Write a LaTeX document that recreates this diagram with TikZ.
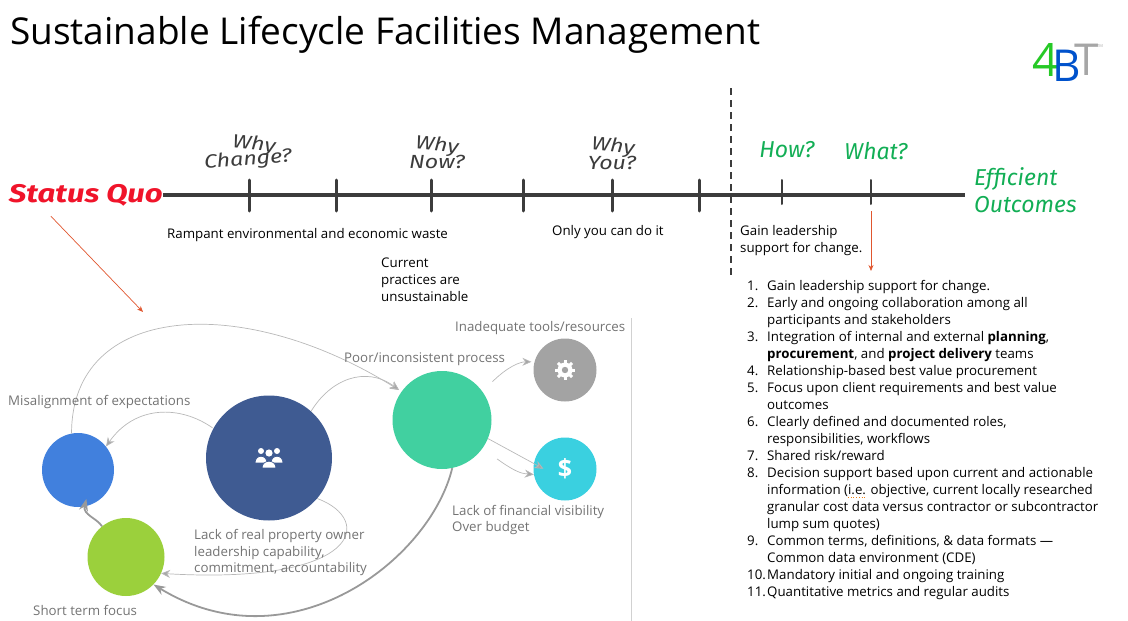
\documentclass[tikz,border=0pt]{standalone}
\usepackage{fontspec}
\setmainfont{Open Sans}
\newfontfamily\handfont{Fira Sans}
\newfontfamily\handwide[FakeStretch=1.22]{Fira Sans}
\usepackage{tikz}
\usepackage{xcolor}
\usetikzlibrary{arrows.meta, shapes.geometric, positioning}
\definecolor{darkbubble}{HTML}{3F5B92}
\definecolor{tealbubble}{HTML}{41D0A0}
\definecolor{bluebubble}{HTML}{4180DD}
\definecolor{limebubble}{HTML}{9BD03C}
\definecolor{graybubble}{HTML}{A3A3A3}
\definecolor{cyanbubble}{HTML}{3AD0E0}
\definecolor{handgreen}{HTML}{12AE55}
\definecolor{handred}{HTML}{F0142A}
\definecolor{arrowred}{HTML}{E0562E}
\definecolor{linegray}{HTML}{3C3C3C}
\tikzset{
	bodytext/.style={anchor=west, align=left, text=black, font=\fontsize{13.3}{17}\selectfont},
	graytext/.style={anchor=west, align=left, text=black!55, font=\fontsize{13.3}{16.5}\selectfont},
	handblack/.style={text=linegray, font=\handwide\itshape\fontsize{19}{19}\selectfont},
	handgood/.style={text=handgreen, font=\handfont\itshape\fontsize{23}{27}\selectfont},
	bubble/.style={ellipse, fill=#1, minimum width=0pt},
	tick/.style={line width=3pt, linegray, line cap=round},
	flow/.style={draw=black!28, line width=0.7pt, -{Stealth[length=9pt,width=8pt,fill=black!35]}},
	heavyflow/.style={flow, draw=black!40, line width=1.8pt, -{Stealth[length=12pt,width=9pt,fill=black!35]}},
	redarrow/.style={draw=arrowred, line width=0.7pt, -{Stealth[length=6pt,width=5pt]}}
}
\begin{document}
\begin{tikzpicture}[x=1pt, y=-1pt, every node/.style={inner sep=0pt}]
	\useasboundingbox (0,0) rectangle (1128,621);
	\node[anchor=west, font=\fontsize{37}{40}\selectfont] at (10,35) (title) {Sustainable Lifecycle Facilities Management};

	% logo
	\node[text=green!75!black!85!white, font=\fontsize{46}{46}\selectfont] at (1046,60) (logofour) {4};
	\node[text=blue!60!cyan!80!black, font=\fontsize{44}{44}\selectfont] at (1067,66) (logob) {B};
	\node[text=black!35, font=\fontsize{44}{44}\selectfont] at (1087,60) (logot) {T};
	\node[text=black!35, font=\fontsize{4}{4}\selectfont] at (1100,46) (logotm) {TM};

	% timeline
	\node[anchor=east, text=handred, font=\handwide\itshape\bfseries\fontsize{25.5}{25.5}\selectfont] at (163,195) (status) {Status Quo};
	\node[handgood, anchor=west, align=left] at (974,190) (outcomes) {Efficient\\Outcomes};
	\draw[line width=4pt, linegray, shorten >=9pt] (status.east) -- (outcomes.west |- status.east);
	\foreach \tx/\tname in {249/change, 336/waste, 431/now, 523/next, 612/you, 699/last}
		\draw[tick] (\tx,180) -- (\tx,211) coordinate (\tname);
	\foreach \tx/\tname in {782/how, 871/what}
		\draw[tick, line width=2pt] (\tx,180) -- (\tx,204) coordinate (\tname);
	\draw[line width=1.5pt, linegray, dash pattern=on 7pt off 5pt] (731,88) -- (731,277);

	\node[handblack, rotate=-6] at (254,145) (whya) {Why};
	\node[handblack, rotate=4] at (248,160) (changeq) {Change?};
	\node[handblack, rotate=-6] at (437,146) (whyb) {Why};
	\node[handblack] at (437,162) (nowq) {Now?};
	\node[handblack, rotate=-6] at (613,147) (whyc) {Why};
	\node[handblack] at (612,163) (youq) {You?};
	\node[handgood] at (787,150) (howq) {How?};
	\node[handgood] at (876,151) (whatq) {What?};

	\node[bodytext] at (167,235.5) (wastetext) {Rampant environmental and economic waste};
	\node[bodytext] at (381,280) (practices) {Current\\practices are\\unsustainable};
	\node[bodytext] at (552,232.5) (onlyyou) {Only you can do it};
	\node[bodytext] at (740,241) (gain) {Gain leadership\\support for change.};

	% arrows out of the timeline
	\coordinate (statusend) at (143,312);
	\coordinate (listtop) at (871,271);
	\draw[redarrow, shorten <=14pt] (status.-166) -- (statusend);
	\draw[redarrow, shorten <=7pt] (what) -- (listtop);

	% bubbles
	\draw[black!18, line width=0.6pt] (631,318) -- (631,621);
	\node[bubble=darkbubble, minimum width=126pt, minimum height=125pt] at (269,458) (owner) {};
	\node[bubble=tealbubble, minimum width=99pt, minimum height=98pt] at (442,420) (process) {};
	\node[bubble=bluebubble, minimum width=72pt, minimum height=74pt] at (78,470) (expect) {};
	\node[bubble=limebubble, minimum width=77pt, minimum height=78pt] at (126,557) (shortterm) {};
	\node[bubble=graybubble, minimum width=63pt, minimum height=63pt] at (565,370) (tools) {};
	\node[bubble=cyanbubble, minimum width=63pt, minimum height=63pt] at (565,469) (money) {};
	\node[text=white, font=\bfseries\fontsize{25}{25}\selectfont] at (565,469) (dollar) {\$};
	% gear icon
	\foreach \a in {0,45,...,315}
		\draw[white, line width=3pt] (565,370) -- ++(\a:10);
	\fill[white] (565,370) circle[radius=7.5pt];
	\fill[graybubble] (565,370) circle[radius=3.2pt];
	% people icon
	\foreach \px/\py/\pr in {261/451/3, 277/451/3, 269/453/3.6}
		\fill[white] (\px,\py) circle[radius=\pr pt];
	\foreach \px/\pw/\pb in {261/6/463, 277/6/463, 269/7/468}
		\fill[white, draw=darkbubble, line width=0.7pt] (\px-\pw,\pb) .. controls (\px-\pw,\pb-9) and (\px+\pw,\pb-9) .. (\px+\pw,\pb) -- cycle;

	\draw[flow, shorten >=3pt] (expect.100) .. controls +(0,-130) and +(-160,-100) .. (process.145);
	\draw[flow, shorten >=3pt] (owner.48) .. controls (330,380) and (365,365) .. (process.145);
	\draw[flow, shorten <=1pt] (owner.152) .. controls (180,405) and (135,405) .. (expect.40);
	\draw[flow] (owner.-40) .. controls (375,520) and (360,585) .. (shortterm.-25);
	\draw[heavyflow] (process.-78) .. controls (430,560) and (290,668) .. (shortterm.-45);
	\draw[heavyflow, shorten >=-8pt] (shortterm.128) .. controls +(-5,-8) and +(-2,8) .. (expect.-80);
	\draw[flow, shorten <=14pt, shorten >=3pt] (process.35) .. controls +(24,-24) and +(-15,0) .. (tools.165);
	\draw[flow, shorten >=-11pt] (process.-22) -- (money.170);
	\draw[flow, shorten <=18pt] (process.-35) .. controls +(36,26) and +(-10,-1) .. (money.-170);

	% captions
	\node[graytext] at (455,328.5) (toolstext) {Inadequate tools/resources};
	\node[graytext] at (344,359.5) (processtext) {Poor/inconsistent process};
	\node[graytext] at (8,402.5) (expecttext) {Misalignment of expectations};
	\node[graytext] at (194,553) (ownertext) {Lack of real property owner\\leadership capability,\\commitment, accountability};
	\node[graytext] at (452,520) (moneytext) {Lack of financial visibility\\Over budget};
	\node[graytext] at (33,610) (shorttext) {Short term focus};

	% steps
	\node[anchor=north west, align=left, font=\fontsize{13.3}{17}\selectfont] at (747,278) (steps) {%
		\begin{tabular}{@{}p{20pt}@{}l@{}}
		1. & Gain leadership support for change.\\
		2. & Early and ongoing collaboration among all\\
		 & participants and stakeholders\\
		3. & Integration of internal and external \textbf{planning},\\
		 & \textbf{procurement}, and \textbf{project delivery} teams\\
		4. & Relationship-based best value procurement\\
		5. & Focus upon client requirements and best value\\
		 & outcomes\\
		6. & Clearly defined and documented roles,\\
		 & responsibilities, workflows\\
		7. & Shared risk/reward\\
		8. & Decision support based upon current and actionable\\
		 & information (i.e. objective, current locally researched\\
		 & granular cost data versus contractor or subcontractor\\
		 & lump sum quotes)\\
		9. & Common terms, definitions, \& data formats ---\\
		 & Common data environment (CDE)\\
		10. & Mandatory initial and ongoing training\\
		11. & Quantitative metrics and regular audits
		\end{tabular}};
	\draw[orange!70!brown, dotted, line width=0.7pt] (848,497) -- (865,497);
\end{tikzpicture}
\end{document}
